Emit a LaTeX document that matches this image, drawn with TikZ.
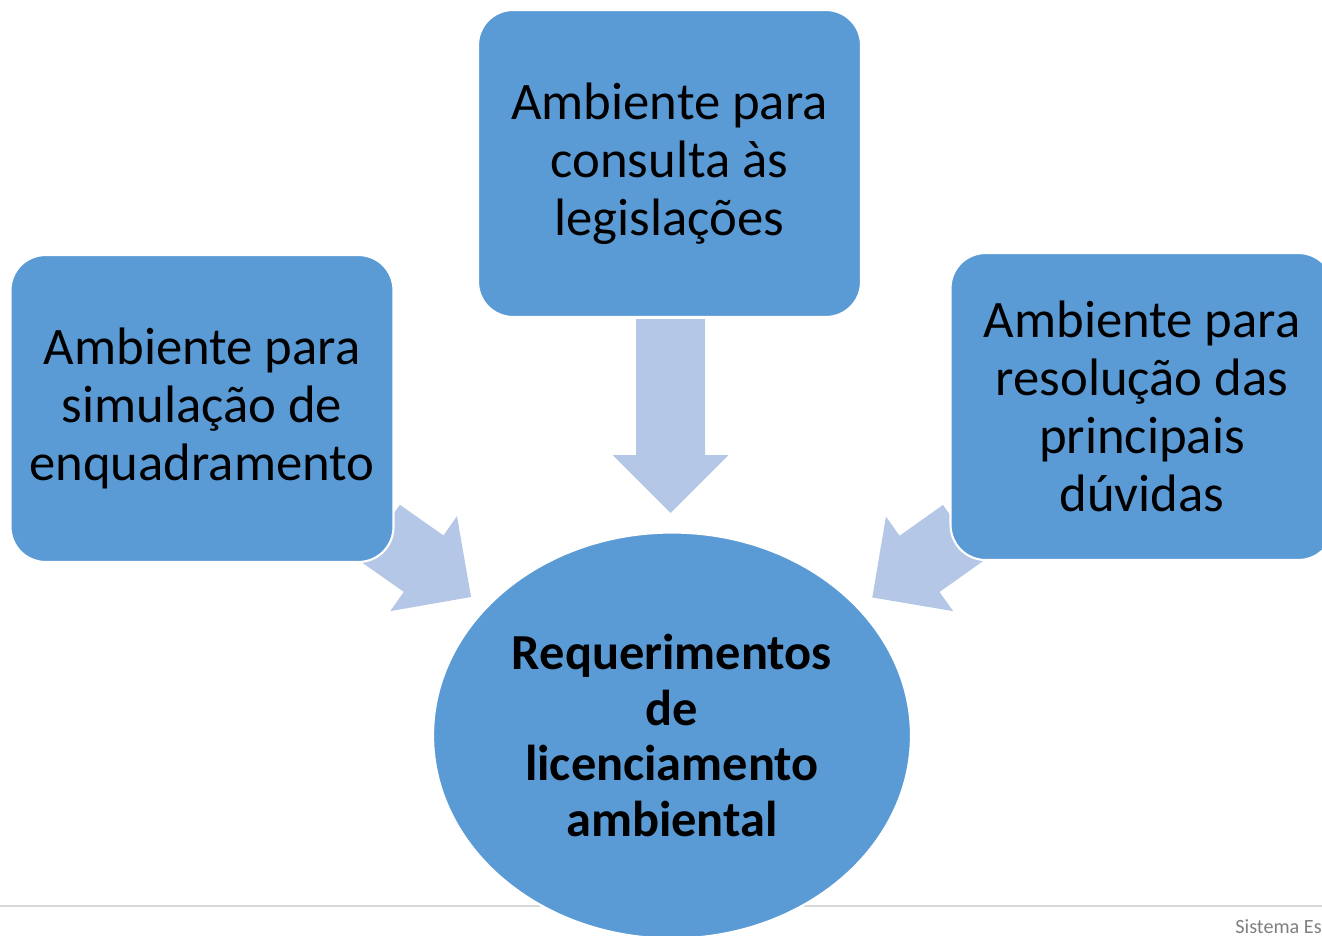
\documentclass[tikz,border=0pt]{standalone}
\usepackage{fontspec}
\setmainfont{Carlito}
\usetikzlibrary{shapes.geometric}
\definecolor{boxblue}{HTML}{5B9BD5}
\definecolor{arrowblue}{HTML}{B4C7E7}
\definecolor{rulegray}{HTML}{D9D9D9}
\definecolor{footgray}{HTML}{7F7F7F}

% block arrow: x, y of the shaft base, angle, length
\NewDocumentCommand{\blockarrow}{mmmm}{%
\begin{scope}[shift={(#1,#2)}, rotate=#3]
\fill[arrowblue] (0,-34.5) -- (#4-58,-34.5) -- (#4-58,-58) -- (#4,0) -- (#4-58,58) -- (#4-58,34.5) -- (0,34.5) -- cycle;
\end{scope}%
}

\tikzset{
  ambox/.style={rectangle, rounded corners=0.7cm, fill=boxblue, draw=white, line width=1.2pt,
    minimum width=7.66cm, minimum height=6.14cm, inner sep=0pt, align=center,
    font=\fontsize{30}{33}\selectfont},
  reqellipse/.style={ellipse, fill=boxblue, draw=white, line width=1.2pt,
    minimum width=9.56cm, minimum height=8.12cm, inner sep=0pt, align=center,
    font=\fontsize{28.7}{31.8}\selectfont\bfseries},
}

\begin{document}
\begin{tikzpicture}[x=0.02cm, y=-0.02cm]
        \useasboundingbox (0,0) rectangle (1322,936);
        \clip (0,0) rectangle (1322,936);

        % footer rule
        \coordinate (ruleL) at (0,906);
        \coordinate (ruleR) at (1322,906);
        \draw[rulegray, line width=1.1pt] (ruleL) -- (ruleR);
        \node[anchor=base west, text=footgray, font=\fontsize{11.5}{13}\selectfont, inner sep=0pt] (foot) at (1235,933) {Sistema Es};

        % arrows
        \blockarrow{670.5}{319}{-90}{194}
        \blockarrow{380}{533}{-35.1}{111.3}
        \blockarrow{963}{533}{-144.6}{111.3}

        % boxes
        \node[ambox] (legis) at (669.5,163.5) {Ambiente para\\consulta às\\legislações};
        \node[ambox] (simul) at (202,408.5) {Ambiente para\\simulação de\\enquadramento};
        \node[ambox] (duvidas) at (1142,406.5) {Ambiente para\\resolução das\\principais\\dúvidas};
        \node[reqellipse] (req) at (672,735.5) {Requerimentos\\de\\licenciamento\\ambiental};
    \end{tikzpicture}
\end{document}
